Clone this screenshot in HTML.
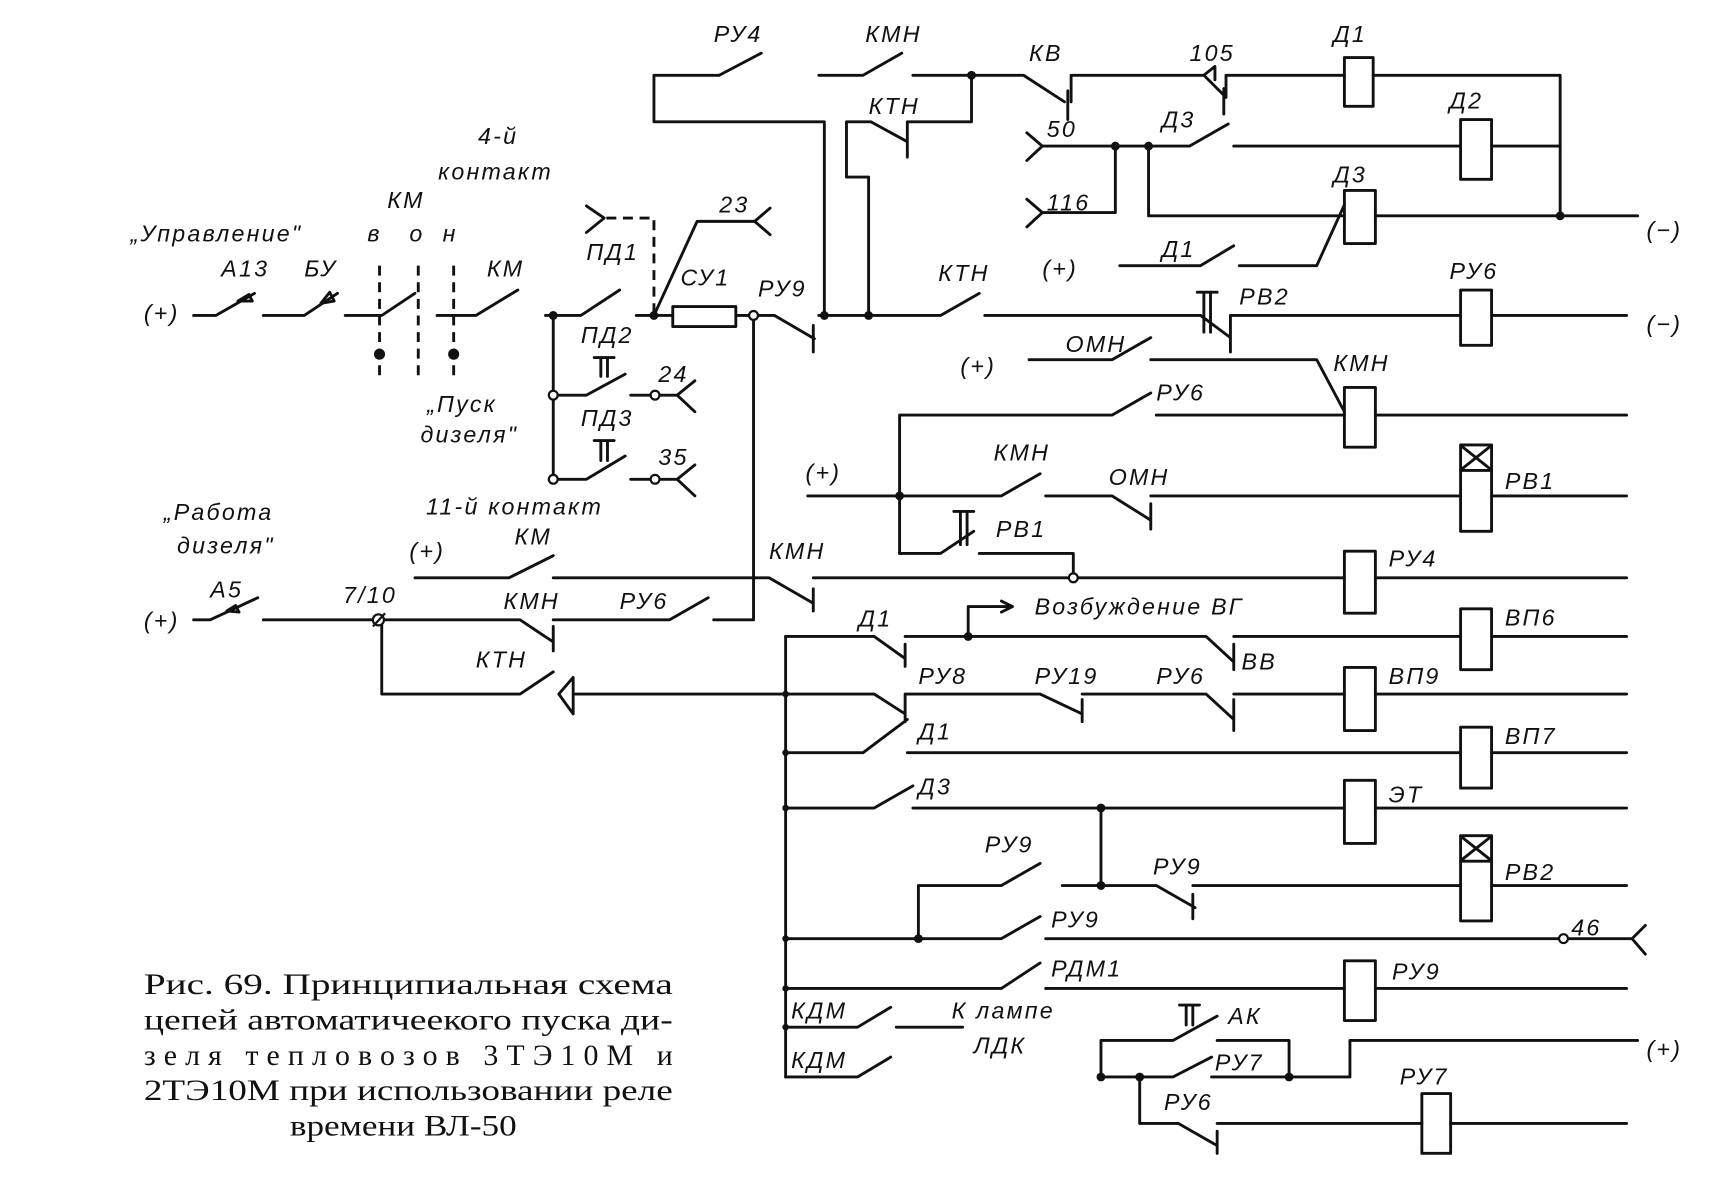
<!DOCTYPE html>
<html><head><meta charset="utf-8"><style>
html,body{margin:0;padding:0;background:#fff;}
svg{display:block}
.w{stroke:#111;stroke-width:2.6;fill:none;stroke-linecap:round;stroke-linejoin:round}
.d{stroke:#111;stroke-width:2.6;fill:none;stroke-dasharray:9 6}
.t{font-family:"Liberation Sans",sans-serif;font-style:italic;font-size:21px;fill:#111;letter-spacing:2px}
.c{font-family:"Liberation Serif",serif;font-size:27px;fill:#111}
</style></head><body>
<svg width="1735" height="1191" viewBox="0 0 1568 1076" preserveAspectRatio="none" xmlns="http://www.w3.org/2000/svg">
<g class="w">
<path d="M650 68 H591 V110 H745 V285"/>
<path d="M650 68 L688 48"/>
<path d="M740 68 H780 L815 48"/>
<path d="M825 68 H925 L962 92 M965 82 V108 M968 92 V68 H1088 L1108 88 M1106 80 V103 M1108 88 V68 H1215"/>
<path d="M1088 68 L1098 60 V72"/>
<rect x="1215" y="52" width="26" height="44"/>
<path d="M1241 68 H1410 V195"/>
<path d="M878 68 V110 H820 V142 M820 128 L787 110 H765 V160 H785 V285"/>
<path d="M928 120 L942 132 L928 145 M942 132 H1075 L1110 112"/>
<path d="M1115 132 H1320"/><rect x="1320" y="108" width="28" height="54"/><path d="M1348 132 H1410"/>
<path d="M928 180 L942 192 L928 205 M942 192 H1008 V132 M1038 132 V195 H1215"/>
<rect x="1215" y="172" width="28" height="48"/><path d="M1243 195 H1480"/>
<path d="M1012 240 H1085 L1115 222 M1120 240 H1190 L1215 185"/>
<path d="M175 285 H195 L230 265 M238 285 H275 L305 265 M312 285 H345 L375 265 M395 285 H430 L468 262"/>
<path d="M215 272 l10 -6 l3 6 z M290 274 l8 -10 l4 8 z"/>
<path d="M493 285 H525 L560 262 M575 285 H608"/>
<rect x="608" y="277" width="57" height="18"/>
<path d="M665 285 H700 L736 306 M735 294 V318 M740 285 H850 L885 265 M890 285 H1085 L1112 305 M1112 285 V318 M1112 285 H1320"/>
<rect x="1320" y="262" width="28" height="50"/><path d="M1348 285 H1470"/>
<path d="M591 285 L630 200 H682 M682 200 L696 188 M682 200 L696 212"/>
<path d="M530 186 L546 197 L530 210"/>
<path d="M500 285 V433 H530 L565 412 M500 357 H530 L565 338 M570 433 H588 M596 433 H612 L628 420 M612 433 L628 448 M570 357 H588 M596 357 H612 L628 344 M612 357 L628 372"/>
<path d="M537 323 H555 M543 323 V340 M549 323 V340 M537 398 H555 M543 398 V416 M549 398 V416 M1082 264 H1100 M1088 264 V300 M1094 264 V300 M862 462 H880 M868 462 V492 M874 462 V492 M1066 908 H1084 M1072 908 V926 M1078 908 V926"/>
<path d="M930 325 H1005 L1040 305 M1040 325 H1190 L1215 372"/>
<rect x="1215" y="350" width="28" height="54"/><path d="M1243 375 H1470"/>
<path d="M813 500 V375 H1005 L1040 355 M1045 375 H1215"/>
<path d="M730 448 H905 L940 428 M945 448 H1005 L1040 470 M1040 455 V478 M1040 448 H1320"/>
<rect x="1320" y="402" width="28" height="78"/><path d="M1320 425 H1348 M1322 404 L1346 423 M1346 404 L1322 423 M1348 448 H1470"/>
<path d="M813 500 H850 L880 480 M885 500 H970 V522"/>
<path d="M683 522 H695 L735 545 M735 532 V552 M735 522 H1215"/>
<rect x="1215" y="498" width="28" height="56"/><path d="M1243 522 H1470"/>
<path d="M375 522 H460 L500 502 M500 522 H683"/>
<path d="M175 560 H190 L233 540 M238 560 H470 L500 580 M500 566 V588 M500 560 H605 L640 540 M645 560 H681 V285"/>
<path d="M205 552 l8 -5 l3 6 z"/>
<path d="M345 560 V627 H470 L500 607 M520 627 H710"/>
<path d="M505 627 L518 612 V645 Z"/>
<path d="M710 575 V973"/>
<path d="M710 575 H790 L818 595 M818 582 V602 M818 575 H1090 L1115 598 M1115 582 V605 M1115 575 H1320"/>
<rect x="1320" y="550" width="28" height="55"/><path d="M1348 575 H1470"/>
<path d="M875 575 V548 H915 M905 543 L915 548 L905 553"/>
<path d="M710 627 H790 L818 645 M818 627 V652 M818 627 H940 L978 645 M978 632 V652 M978 627 H1090 L1115 650 M1115 632 V660 M1115 627 H1215"/>
<rect x="1215" y="603" width="28" height="57"/><path d="M1243 627 H1470"/>
<path d="M710 680 H780 L820 650 M820 680 H1320"/>
<rect x="1320" y="657" width="28" height="55"/><path d="M1348 680 H1470"/>
<path d="M710 730 H790 L825 710 M825 730 H1215"/>
<rect x="1215" y="705" width="28" height="57"/><path d="M1243 730 H1470"/>
<path d="M995 730 V800 M830 848 V800 H905 L940 780 M960 800 H1045 L1080 820 M1078 808 V830 M1078 800 H1320"/>
<rect x="1320" y="755" width="28" height="77"/><path d="M1320 778 H1348 M1322 757 L1346 776 M1346 757 L1322 776 M1348 800 H1470"/>
<path d="M710 848 H905 L940 828 M945 848 H1409 M1417 848 H1475 L1487 836 M1475 848 L1487 862"/>
<path d="M710 893 H905 L940 870 M945 893 H1215"/>
<rect x="1215" y="868" width="28" height="54"/><path d="M1243 893 H1470"/>
<path d="M710 928 H775 L805 910 M810 928 H870 M710 973 H775 L805 955"/>
<path d="M995 973 V940 H1060 L1100 918 M1100 940 H1165 V973 M995 973 H1060 L1095 955 M1095 973 H1220 V940 H1480"/>
<path d="M1030 973 V1015 H1065 L1100 1035 M1100 1022 V1042 M1100 1015 H1285"/>
<rect x="1285" y="988" width="26" height="54"/><path d="M1311 1015 H1470"/>
</g>
<path class="d" d="M548 197 H591 V285 M343 240 V340 M378 240 V340 M410 240 V340"/>
<g fill="#111">
<circle cx="878" cy="68" r="4"/><circle cx="1008" cy="132" r="4"/><circle cx="1038" cy="132" r="4"/><circle cx="1410" cy="195" r="4"/>
<circle cx="500" cy="285" r="4"/><circle cx="591" cy="285" r="4"/><circle cx="745" cy="285" r="4"/><circle cx="785" cy="285" r="4"/>
<circle cx="813" cy="448" r="4"/><circle cx="875" cy="575" r="4"/><circle cx="995" cy="730" r="4"/><circle cx="995" cy="800" r="4"/>
<circle cx="830" cy="848" r="4"/><circle cx="995" cy="973" r="4"/><circle cx="1030" cy="973" r="4"/><circle cx="1165" cy="973" r="4"/>
<circle cx="343" cy="320" r="5"/><circle cx="410" cy="320" r="5"/>
<circle cx="710" cy="627" r="3"/><circle cx="710" cy="680" r="3"/><circle cx="710" cy="730" r="3"/><circle cx="710" cy="848" r="3"/><circle cx="710" cy="893" r="3"/><circle cx="710" cy="928" r="3"/>
</g>
<g fill="#fff" stroke="#111" stroke-width="2">
<circle cx="681" cy="285" r="4"/><circle cx="500" cy="357" r="4"/><circle cx="500" cy="433" r="4"/><circle cx="592" cy="357" r="4"/><circle cx="592" cy="433" r="4"/>
<circle cx="970" cy="522" r="4"/><circle cx="342" cy="560" r="5"/><circle cx="1413" cy="848" r="4"/>
</g>
<path d="M337 566 L348 554" stroke="#111" stroke-width="2"/>
<g class="t">
<text x="645" y="38">РУ4</text><text x="782" y="38">КМН</text><text x="930" y="55">КВ</text><text x="1075" y="55">105</text><text x="1205" y="38">Д1</text>
<text x="785" y="103">КТН</text><text x="946" y="124">50</text><text x="1050" y="115">Д3</text><text x="1310" y="98">Д2</text>
<text x="946" y="190">116</text><text x="1205" y="165">Д3</text><text x="1050" y="232">Д1</text><text x="942" y="250">(+)</text>
<text x="1488" y="215">(−)</text><text x="1488" y="300">(−)</text>
<text x="432" y="130">4-й</text><text x="396" y="162">контакт</text>
<text x="118" y="218">„Управление"</text><text x="332" y="218">в</text><text x="370" y="218">о</text><text x="400" y="218">н</text><text x="350" y="188">КМ</text>
<text x="200" y="250">А13</text><text x="275" y="250">БУ</text><text x="440" y="250">КМ</text><text x="130" y="290">(+)</text>
<text x="530" y="235">ПД1</text><text x="650" y="192">23</text><text x="615" y="258">СУ1</text><text x="685" y="268">РУ9</text>
<text x="848" y="254">КТН</text><text x="1120" y="275">РВ2</text><text x="1310" y="252">РУ6</text>
<text x="525" y="310">ПД2</text><text x="525" y="385">ПД3</text><text x="595" y="345">24</text><text x="595" y="420">35</text>
<text x="386" y="372">„Пуск</text><text x="380" y="400">дизеля"</text><text x="385" y="465">11-й контакт</text>
<text x="868" y="338">(+)</text><text x="963" y="318">ОМН</text><text x="1205" y="335">КМН</text><text x="1045" y="362">РУ6</text>
<text x="728" y="434">(+)</text><text x="898" y="416">КМН</text><text x="1002" y="438">ОМН</text><text x="1360" y="442">РВ1</text><text x="900" y="485">РВ1</text>
<text x="148" y="470">„Работа</text><text x="160" y="500">дизеля"</text><text x="190" y="540">А5</text><text x="130" y="568">(+)</text>
<text x="370" y="505">(+)</text><text x="465" y="492">КМ</text><text x="695" y="505">КМН</text><text x="1255" y="512">РУ4</text>
<text x="310" y="545">7/10</text><text x="455" y="550">КМН</text><text x="560" y="550">РУ6</text><text x="430" y="603">КТН</text>
<text x="776" y="566">Д1</text><text x="935" y="555">Возбуждение ВГ</text><text x="1360" y="565">ВП6</text><text x="1122" y="605">ВВ</text>
<text x="830" y="618">РУ8</text><text x="935" y="618">РУ19</text><text x="1045" y="618">РУ6</text><text x="1255" y="618">ВП9</text>
<text x="830" y="668">Д1</text><text x="1360" y="672">ВП7</text><text x="830" y="718">Д3</text><text x="1255" y="725">ЭТ</text>
<text x="890" y="770">РУ9</text><text x="1042" y="790">РУ9</text><text x="1360" y="795">РВ2</text><text x="950" y="838">РУ9</text><text x="1420" y="845">46</text>
<text x="950" y="882">РДМ1</text><text x="1258" y="885">РУ9</text><text x="715" y="920">КДМ</text><text x="860" y="920">К лампе</text>
<text x="715" y="965">КДМ</text><text x="880" y="952">ЛДК</text><text x="1110" y="925">АК</text><text x="1098" y="967">РУ7</text>
<text x="1488" y="955">(+)</text><text x="1265" y="980">РУ7</text><text x="1052" y="1003">РУ6</text>
</g>
<g class="c">
<text x="130" y="898" textLength="478" lengthAdjust="spacingAndGlyphs">Рис. 69. Принципиальная схема</text>
<text x="130" y="930" textLength="478" lengthAdjust="spacingAndGlyphs">цепей автоматичеекого пуска ди-</text>
<text x="130" y="962" textLength="478" lengthAdjust="spacing">зеля   тепловозов  3ТЭ10М    и</text>
<text x="130" y="994" textLength="478" lengthAdjust="spacingAndGlyphs">2ТЭ10М при использовании реле</text>
<text x="262" y="1026" textLength="205" lengthAdjust="spacingAndGlyphs">времени ВЛ-50</text>
</g>
</svg>
</body></html>
